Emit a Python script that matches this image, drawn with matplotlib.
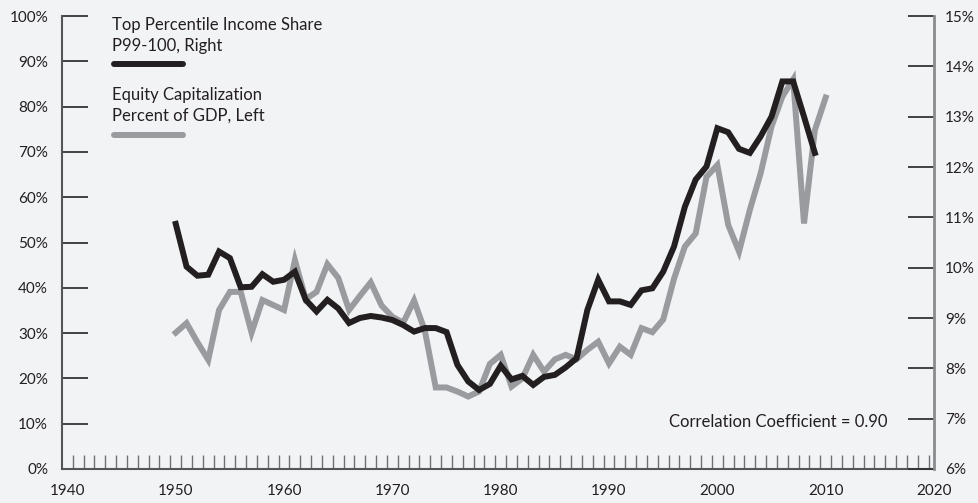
import numpy as np
import matplotlib
matplotlib.use("Agg")
from matplotlib import pyplot as plt
from matplotlib.lines import Line2D

plt.rcParams['font.family'] = ['Lato', 'DejaVu Sans']

# Top percentile income share P99-100 (right axis, %)
income_years = list(range(1950, 2010))
income_share = [10.87, 10.02, 9.84, 9.86, 10.32, 10.19, 9.61, 9.62, 9.87, 9.72,
                9.76, 9.92, 9.36, 9.13, 9.36, 9.19, 8.90, 9.00, 9.04, 9.01,
                8.96, 8.86, 8.73, 8.80, 8.80, 8.72, 8.07, 7.74, 7.57, 7.69,
                8.05, 7.78, 7.85, 7.67, 7.83, 7.87, 8.02, 8.20, 9.16, 9.76,
                9.33, 9.33, 9.26, 9.55, 9.59, 9.92, 10.42, 11.21, 11.75, 12.01,
                12.77, 12.69, 12.36, 12.28, 12.61, 13.00, 13.70, 13.70, 13.00, 12.28]

# Equity capitalization, percent of GDP (left axis, %)
equity_years = list(range(1950, 2011))
equity_cap = [30.1, 32.2, 28.0, 24.1, 35.1, 39.1, 39.1, 30.1, 37.3, 36.2,
              35.1, 46.1, 37.5, 39.1, 45.2, 42.2, 35.1, 38.2, 41.2, 36.1,
              33.6, 32.3, 37.2, 30.5, 18.0, 18.0, 17.1, 16.0, 17.1, 23.2,
              25.2, 18.2, 20.0, 25.2, 21.5, 24.2, 25.2, 24.2, 26.3, 28.1,
              23.3, 27.0, 25.2, 31.1, 30.2, 33.0, 42.0, 49.1, 52.0, 64.5,
              67.1, 53.9, 48.0, 57.2, 65.3, 75.6, 82.2, 86.0, 54.2, 74.8,
              82.0]

left_ticks = list(range(0, 101, 10))
right_ticks = list(range(6, 16))
year_ticks = list(range(1940, 2021, 10))

bg = '#f2f3f5'
black = '#231f20'
grey = '#9a9b9f'
txt = '#231f20'

fig = plt.figure(figsize=(9.79, 5.03), dpi=100, facecolor=bg)
ax = fig.add_axes([62 / 979, 34 / 503, 872 / 979, 453 / 503])
ax.set_facecolor(bg)
ax2 = ax.twinx()

ax.plot(equity_years, equity_cap, color=grey, lw=4.3, solid_joinstyle='miter', zorder=2)
ax2.plot(income_years, income_share, color=black, lw=4.3, solid_joinstyle='miter', zorder=3)

ax.set_xlim(1939.5, 2020)
ax.set_ylim(0, 100)
ax2.set_ylim(6, 15)

ax.set_xticks(year_ticks)
ax.set_xticklabels([str(y) for y in year_ticks])
ax.set_xticks(np.arange(1940.5, 2020, 1), minor=True)
ax.tick_params(axis='x', which='major', length=0, pad=11, labelsize=11, labelcolor=txt)
ax.tick_params(axis='x', which='minor', direction='in', length=10, width=1, color='#6f7074')

ax.set_yticks(left_ticks)
ax.set_yticklabels(['%d%%' % v for v in left_ticks])
ax.tick_params(axis='y', direction='in', length=19, width=1.3, color='#333333',
               pad=10, labelsize=11, labelcolor=txt)

ax2.set_yticks(right_ticks)
ax2.set_yticklabels(['%d%%' % v for v in right_ticks])
ax2.tick_params(axis='y', direction='in', length=19, width=1.3, color='#333333',
                pad=8, labelsize=11, labelcolor=txt)

for a in (ax, ax2):
    a.spines['top'].set_visible(False)
ax.spines['right'].set_visible(False)
ax2.spines['left'].set_visible(False)
ax2.spines['bottom'].set_visible(False)
ax.spines['left'].set_color('#555555')
ax.spines['left'].set_linewidth(1.5)
ax.spines['bottom'].set_color('#555555')
ax.spines['bottom'].set_linewidth(1.5)
ax2.spines['right'].set_color('#8a8b8f')
ax2.spines['right'].set_linewidth(2)

# legend block
fig.text(112 / 979, 1 - 25 / 503, 'Top Percentile Income Share', fontsize=12, color=txt, va='center')
fig.text(112 / 979, 1 - 46 / 503, 'P99-100, Right', fontsize=12, color=txt, va='center')
fig.add_artist(Line2D([114 / 979, 183 / 979], [1 - 64 / 503, 1 - 64 / 503], color=black,
                      lw=4.3, solid_capstyle='round'))
fig.text(112 / 979, 1 - 95 / 503, 'Equity Capitalization', fontsize=12, color=txt, va='center')
fig.text(112 / 979, 1 - 116 / 503, 'Percent of GDP, Left', fontsize=12, color=txt, va='center')
fig.add_artist(Line2D([114 / 979, 183 / 979], [1 - 135 / 503, 1 - 135 / 503], color=grey,
                      lw=4.3, solid_capstyle='round'))

fig.text(888 / 979, 1 - 422 / 503, 'Correlation Coefficient = 0.90', fontsize=12,
         color=txt, ha='right', va='center')

fig.savefig('out.png', dpi=100, facecolor=bg)
